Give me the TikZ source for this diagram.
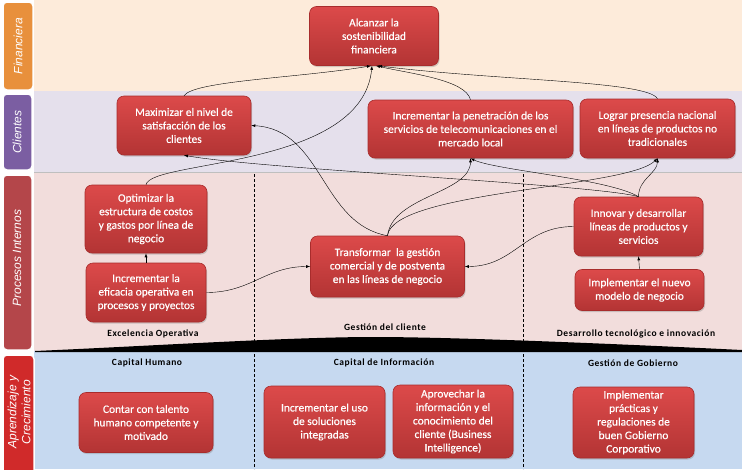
\documentclass[tikz,border=0pt]{standalone}
\usepackage{fontspec}
\setmainfont{Carlito}
\newfontfamily\objfont[FakeBold=0.4]{Carlito}
\newfontfamily\tabfont{Liberation Sans}
\newfontfamily\labfont[LetterSpace=6]{Carlito}
\usetikzlibrary{shadows}

\definecolor{finbg}{HTML}{FDEBDA}
\definecolor{clibg}{HTML}{E5E0EC}
\definecolor{probg}{HTML}{F2DDDC}
\definecolor{aprbg}{HTML}{C6D9F0}
\definecolor{tabfin}{HTML}{E8903C}
\definecolor{tabcli}{HTML}{7B5EA2}
\definecolor{tabpro}{HTML}{B4464A}
\definecolor{tabapr}{HTML}{D02A2A}
\definecolor{objtop}{HTML}{DC4A4A}
\definecolor{objbot}{HTML}{B33434}
\definecolor{objline}{HTML}{A82C2C}

\tikzset{
  objbox/.style={rounded corners=7pt, top color=objtop, bottom color=objbot,
    draw=objline, line width=0.6pt, text=white, align=center, inner sep=2pt,
    font=\objfont\fontsize{11.4}{13.5}\selectfont,
    drop shadow={opacity=0.35,shadow xshift=1pt,shadow yshift=-1.5pt}},
  tabedge/.style={draw=white, line width=1.5pt, rounded corners=4pt},
  tablbl/.style={rotate=90, text=white, align=center,
    font=\tabfont\itshape\fontsize{12}{14}\selectfont},
  seclbl/.style={font=\labfont\bfseries\fontsize{9.5}{11}\selectfont}
}

\begin{document}
\begin{tikzpicture}[x=1pt,y=-1pt,>=latex]
  \useasboundingbox (0,0) rectangle (742,469);
  \fill[white] (0,0) rectangle (742,469);

  % bands
  \fill[finbg] (34,0) rectangle (742,91);
  \fill[clibg] (34,91) rectangle (742,172);
  \fill[probg] (34,172) rectangle (742,351);
  \fill[aprbg] (34,351) rectangle (742,469);
  \draw[gray!50] (34,172) -- (742,172);
  \fill[black] (35,351) .. controls (150,346) and (290,337) .. (374,337)
    .. controls (460,337) and (640,345) .. (742,350) -- (742,352) -- (35,352) -- cycle;
  \foreach \x in {254,523}
  \draw[dash pattern=on 3pt off 2pt] (\x,174) -- (\x,469);

  % tabs
  \draw[tabedge,fill=tabfin] (3,2) rectangle (33,90);
  \draw[tabedge,fill=tabcli] (3,94) rectangle (32,170);
  \draw[tabedge,fill=tabpro] (3,175) rectangle (32,350);
  \draw[tabedge,fill=tabapr] (3,355) rectangle (34,475);
  \node[tablbl] (tfin) at (18,46) {Financiera};
  \node[tablbl] (tcli) at (17,132) {Clientes};
  \node[tablbl] (tpro) at (17,258) {Procesos Internos};
  \node[tablbl] (tapr) at (19,412) {Aprendizaje y\\Crecimiento};

  % section labels
  \foreach \n/\x/\y/\t in {exc/153/334/Excelencia Operativa, gcl/385/327/Gestión del cliente,
    des/636/334/Desarrollo tecnológico e innovación, chu/147/363/Capital Humano,
    cin/384/363/Capital de Información, ggo/633/363/Gestión de Gobierno}
  \node[seclbl] (\n) at (\x,\y) {\t};

  % objectives
  \node[objbox,minimum width=129pt,minimum height=59pt] (alc) at (374,36)
    {Alcanzar la\\sostenibilidad\\financiera};
  \node[objbox,minimum width=134pt,minimum height=59pt] (max) at (184,125.5)
    {Maximizar el nivel de\\satisfacción de los\\clientes};
  \node[objbox,minimum width=205pt,minimum height=58pt] (pen) at (470.5,129)
    {Incrementar la penetración de los\\servicios de telecomunicaciones en el\\mercado local};
  \node[objbox,minimum width=155pt,minimum height=59pt] (log) at (657.5,128.5)
    {Lograr presencia nacional\\en líneas de productos no\\tradicionales};
  \node[objbox,minimum width=122pt,minimum height=68pt] (opt) at (146,219)
    {Optimizar la\\estructura de costos\\y gastos por línea de\\negocio};
  \node[objbox,minimum width=120pt,minimum height=59pt] (efi) at (146,292.5)
    {Incrementar la\\eficacia operativa en\\procesos y proyectos};
  \node[objbox,minimum width=154pt,minimum height=61pt] (tra) at (387.5,266.5)
    {Transformar\ \ la gestión\\comercial y de postventa\\en las líneas de negocio};
  \node[objbox,minimum width=129pt,minimum height=59pt] (inn) at (638.5,226.5)
    {Innovar y desarrollar\\líneas de productos y\\servicios};
  \node[objbox,minimum width=129pt,minimum height=41pt] (imp) at (639.5,290)
    {Implementar el nuevo\\modelo de negocio};
  \node[objbox,minimum width=134pt,minimum height=60pt] (tal) at (146,422.5)
    {Contar con talento\\humano competente y\\motivado};
  \node[objbox,minimum width=121pt,minimum height=72pt] (uso) at (324.5,422)
    {Incrementar el uso\\de soluciones\\integradas};
  \node[objbox,minimum width=120pt,minimum height=73pt] (apr) at (453,421.5)
    {Aprovechar la\\información y el\\conocimiento del\\cliente (Business\\Intelligence)};
  \node[objbox,minimum width=121pt,minimum height=71pt] (gob) at (633.5,422.5)
    {Implementar\\prácticas y\\regulaciones de\\buen Gobierno\\Corporativo};

  % links
  \draw[->] (max.north) .. controls +(10,-15) and +(-70,12) .. ([xshift=-3pt]alc.south);
  \draw[->] (pen.north) .. controls +(-5,-20) and +(35,8) .. ([xshift=2pt]alc.south);
  \draw[->] (log.north) .. controls +(-10,-18) and +(120,15) .. ([xshift=4pt]alc.south);
  \draw[->] (opt.north) .. controls +(5,-25) and +(-10,103) .. ([xshift=-2pt]alc.south);
  \draw[->] (inn.north) .. controls +(-40,-12) and +(80,14) .. (max.south);
  \draw[->] (inn.north) .. controls +(-30,-18) and +(25,12) .. (pen.south);
  \draw[->] (inn.north) .. controls +(0,-18) and +(0,15) .. (log.south);
  \draw[->] (tra.north) .. controls +(5,-40) and +(0,35) .. (pen.south);
  \draw[->] (tra.north) .. controls +(5,-45) and +(-30,30) .. (log.south);
  \draw[->] (tra.north) .. controls +(-67,-12) and +(72,4) .. (max.east);
  \draw[->] (efi.east) .. controls +(45,0) and +(-45,0) .. (tra.west);
  \draw[->] (inn.west) .. controls +(-50,0) and +(50,0) .. (tra.east);
  \draw[->] (efi.north) -- (opt.south);
  \draw[->] (imp.north) -- (inn.south);
\end{tikzpicture}
\end{document}
